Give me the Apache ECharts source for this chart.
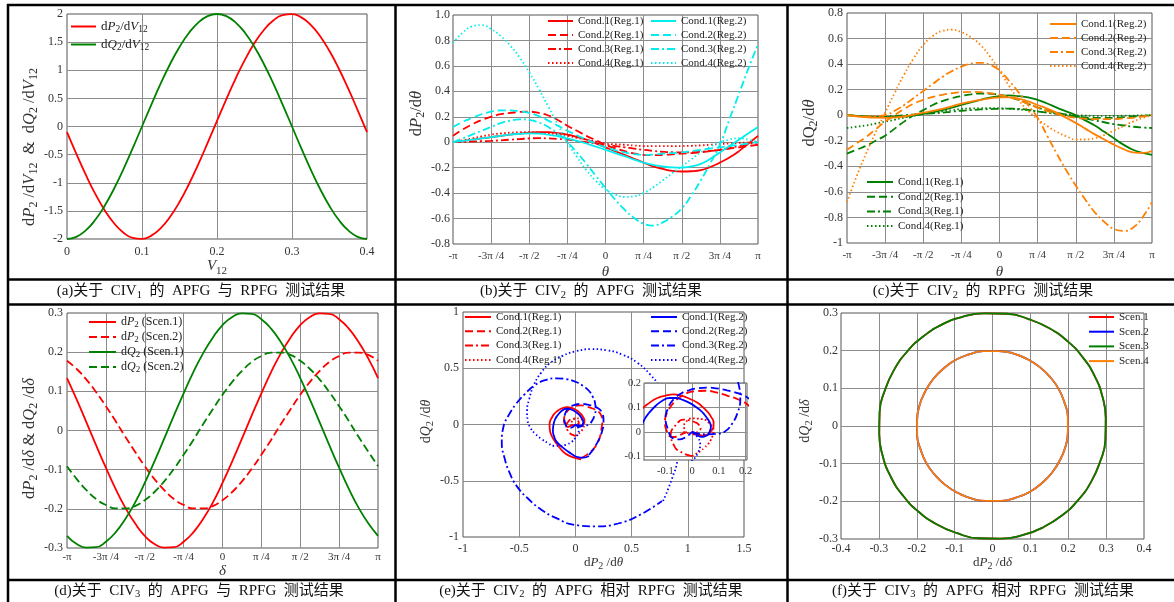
<!DOCTYPE html>
<html><head><meta charset="utf-8">
<script src="https://cdn.jsdelivr.net/npm/echarts@6/dist/echarts.min.js"></script>
<style>html,body{margin:0;padding:0;background:#fff}#c{width:1174px;height:602px}</style>
</head><body><div id="c"></div>
<script>
// ---------- (a) CIV1 ----------
const V12 = [0,0.0125,0.025,0.0375,0.05,0.0625,0.075,0.0875,0.1,0.1125,0.125,0.1375,0.15,0.1625,0.175,0.1875,0.2,0.2125,0.225,0.2375,0.25,0.2625,0.275,0.2875,0.3,0.3125,0.325,0.3375,0.35,0.3625,0.375,0.3875,0.4];
const dP2_dV12 = [-0.1,-0.488,-0.857,-1.193,-1.483,-1.716,-1.884,-1.979,-1.998,-1.94,-1.807,-1.605,-1.341,-1.027,-0.672,-0.292,0.1,0.488,0.857,1.193,1.483,1.716,1.884,1.979,1.998,1.94,1.807,1.605,1.341,1.027,0.672,0.292,-0.1];
const dQ2_dV12 = [-2,-1.962,-1.848,-1.663,-1.414,-1.111,-0.765,-0.39,0,0.39,0.765,1.111,1.414,1.663,1.848,1.962,2,1.962,1.848,1.663,1.414,1.111,0.765,0.39,0,-0.39,-0.765,-1.111,-1.414,-1.663,-1.848,-1.962,-2];

// ---------- angle grid (units of pi/4) and its tick labels ----------
const TH = [-4,-3.75,-3.5,-3.25,-3,-2.75,-2.5,-2.25,-2,-1.75,-1.5,-1.25,-1,-0.75,-0.5,-0.25,0,0.25,0.5,0.75,1,1.25,1.5,1.75,2,2.25,2.5,2.75,3,3.25,3.5,3.75,4];
const PI_TICKS = ['-\u03c0','-3\u03c0 /4','-\u03c0 /2','-\u03c0 /4','0','\u03c0 /4','\u03c0 /2','3\u03c0 /4','\u03c0'];

// ---------- (b) dP2/dθ ----------
const dP_R1_C1 = [0,0.01,0.02,0.03,0.04,0.05,0.06,0.068,0.075,0.08,0.08,0.072,0.06,0.042,0.02,-0.01,-0.04,-0.07,-0.1,-0.13,-0.16,-0.19,-0.21,-0.225,-0.23,-0.228,-0.22,-0.195,-0.16,-0.12,-0.07,-0.01,0.05];
const dP_R1_C2 = [0.05,0.1,0.14,0.175,0.2,0.22,0.23,0.238,0.24,0.23,0.21,0.175,0.13,0.09,0.05,0.015,-0.02,-0.047,-0.07,-0.088,-0.1,-0.102,-0.1,-0.095,-0.09,-0.085,-0.08,-0.07,-0.06,-0.05,-0.04,-0.03,-0.02];
const dP_R1_C3 = [0,0.002,0.005,0.008,0.01,0.015,0.02,0.025,0.03,0.032,0.03,0.026,0.02,0.01,0,-0.01,-0.02,-0.03,-0.04,-0.05,-0.06,-0.068,-0.075,-0.079,-0.08,-0.079,-0.075,-0.068,-0.06,-0.046,-0.03,-0.015,0];
const dP_R1_C4 = [0,0.015,0.03,0.046,0.06,0.069,0.075,0.079,0.08,0.077,0.07,0.06,0.05,0.035,0.02,0.005,-0.01,-0.016,-0.02,-0.026,-0.03,-0.031,-0.03,-0.03,-0.03,-0.028,-0.025,-0.02,-0.015,-0.01,-0.005,-0.002,0];
const dP_R2_C1 = [0,0.01,0.02,0.03,0.04,0.05,0.06,0.066,0.07,0.068,0.06,0.047,0.03,0.01,-0.01,-0.035,-0.06,-0.085,-0.11,-0.136,-0.16,-0.178,-0.19,-0.198,-0.2,-0.19,-0.17,-0.13,-0.08,-0.03,0.02,0.07,0.12];
const dP_R2_C2 = [0.12,0.16,0.19,0.22,0.24,0.25,0.25,0.243,0.23,0.205,0.17,0.13,0.09,0.055,0.02,-0.012,-0.04,-0.062,-0.08,-0.093,-0.1,-0.097,-0.09,-0.085,-0.08,-0.07,-0.06,-0.05,-0.04,-0.03,-0.02,-0.01,0];
const dP_R2_C3 = [0,0.03,0.06,0.09,0.12,0.15,0.17,0.18,0.175,0.155,0.12,0.065,0,-0.08,-0.17,-0.265,-0.36,-0.45,-0.53,-0.595,-0.64,-0.655,-0.63,-0.585,-0.52,-0.42,-0.3,-0.165,-0.02,0.18,0.38,0.58,0.77];
const dP_R2_C4 = [0.78,0.86,0.91,0.92,0.89,0.835,0.76,0.665,0.55,0.42,0.28,0.14,0,-0.115,-0.22,-0.305,-0.37,-0.41,-0.43,-0.425,-0.4,-0.355,-0.3,-0.245,-0.19,-0.135,-0.08,-0.035,0,0.022,0.03,0.02,0];

// ---------- (c) dQ2/dθ ----------
const dQ_R1_C1 = [0,-0.005,-0.01,-0.013,-0.015,-0.013,-0.01,0,0.01,0.024,0.04,0.06,0.08,0.1,0.12,0.137,0.15,0.155,0.15,0.14,0.12,0.092,0.06,0.03,0,-0.04,-0.08,-0.13,-0.18,-0.23,-0.27,-0.295,-0.31];
const dQ_R1_C2 = [-0.3,-0.27,-0.24,-0.2,-0.16,-0.105,-0.05,0,0.04,0.08,0.11,0.133,0.15,0.163,0.17,0.168,0.16,0.142,0.12,0.09,0.06,0.038,0.02,0.004,-0.01,-0.017,-0.02,-0.021,-0.02,-0.015,-0.01,-0.005,0];
const dQ_R1_C3 = [0,-0.005,-0.01,-0.011,-0.01,-0.005,0,0.005,0.01,0.015,0.02,0.028,0.035,0.04,0.045,0.048,0.05,0.051,0.05,0.042,0.03,0.02,0.01,0,-0.01,-0.025,-0.04,-0.055,-0.07,-0.08,-0.09,-0.096,-0.1];
const dQ_R1_C4 = [-0.1,-0.09,-0.08,-0.065,-0.05,-0.035,-0.02,-0.005,0.01,0.02,0.03,0.04,0.05,0.053,0.055,0.056,0.055,0.051,0.045,0.038,0.03,0.022,0.015,0.007,0,-0.003,-0.005,-0.005,-0.005,-0.004,-0.003,-0.001,0];
const dQ_R2_C1 = [0,-0.008,-0.015,-0.019,-0.02,-0.017,-0.01,0.004,0.02,0.034,0.05,0.07,0.09,0.106,0.12,0.132,0.14,0.14,0.13,0.108,0.08,0.052,0.02,-0.02,-0.06,-0.105,-0.15,-0.19,-0.23,-0.265,-0.29,-0.295,-0.28];
const dQ_R2_C2 = [-0.27,-0.22,-0.17,-0.11,-0.05,0,0.05,0.09,0.12,0.143,0.16,0.172,0.18,0.183,0.18,0.172,0.16,0.142,0.12,0.09,0.06,0.033,0.01,-0.008,-0.02,-0.027,-0.03,-0.031,-0.03,-0.025,-0.02,-0.01,0];
const dQ_R2_C3 = [0,-0.008,-0.01,-0.008,0,0.035,0.08,0.135,0.19,0.245,0.3,0.345,0.38,0.403,0.41,0.395,0.35,0.27,0.18,0.08,-0.02,-0.16,-0.3,-0.43,-0.55,-0.66,-0.76,-0.835,-0.89,-0.905,-0.88,-0.8,-0.68];
const dQ_R2_C4 = [-0.68,-0.48,-0.3,-0.135,0.02,0.175,0.32,0.445,0.55,0.62,0.66,0.67,0.65,0.61,0.55,0.46,0.35,0.23,0.12,0.035,-0.03,-0.085,-0.13,-0.165,-0.19,-0.19,-0.18,-0.155,-0.12,-0.085,-0.05,-0.022,0];

// ---------- (d) CIV3 ----------
const dP_S1 = [0.134,0.079,0.021,-0.038,-0.095,-0.149,-0.197,-0.237,-0.269,-0.29,-0.299,-0.298,-0.284,-0.26,-0.226,-0.184,-0.134,-0.079,-0.021,0.038,0.095,0.149,0.197,0.237,0.269,0.29,0.299,0.298,0.284,0.26,0.226,0.184,0.134];
const dQ_S1 = [-0.269,-0.29,-0.299,-0.298,-0.284,-0.26,-0.226,-0.184,-0.134,-0.079,-0.021,0.038,0.095,0.149,0.197,0.237,0.269,0.29,0.299,0.298,0.284,0.26,0.226,0.184,0.134,0.079,0.021,-0.038,-0.095,-0.149,-0.197,-0.237,-0.269];
const dP_S2 = [0.178,0.157,0.13,0.098,0.062,0.024,-0.016,-0.054,-0.091,-0.124,-0.152,-0.175,-0.19,-0.199,-0.199,-0.193,-0.178,-0.157,-0.13,-0.098,-0.062,-0.024,0.016,0.054,0.091,0.124,0.152,0.175,0.19,0.199,0.199,0.193,0.178];
const dQ_S2 = [-0.091,-0.124,-0.152,-0.175,-0.19,-0.199,-0.199,-0.193,-0.178,-0.157,-0.13,-0.098,-0.062,-0.024,0.016,0.054,0.091,0.124,0.152,0.175,0.19,0.199,0.199,0.193,0.178,0.157,0.13,0.098,0.062,0.024,-0.016,-0.054,-0.091];

const CAPTIONS = [
  ['(a)关于\u2002CIV','1','\u2002的\u2002APFG\u2002与\u2002RPFG\u2002测试结果'],
  ['(b)关于\u2002CIV','2','\u2002的\u2002APFG\u2002测试结果'],
  ['(c)关于\u2002CIV','2','\u2002的\u2002RPFG\u2002测试结果'],
  ['(d)关于\u2002CIV','3','\u2002的\u2002APFG\u2002与\u2002RPFG\u2002测试结果'],
  ['(e)关于\u2002CIV','2','\u2002的\u2002APFG\u2002相对\u2002RPFG\u2002测试结果'],
  ['(f)关于\u2002CIV','3','\u2002的\u2002APFG\u2002相对\u2002RPFG\u2002测试结果']
];

// ---------- styling ----------
const SERIF = 'Liberation Serif, Times New Roman, serif';
const CAPF = 'Liberation Serif, Noto Sans CJK SC, serif';
const TXT = '#333';
const RED = '#ff0000', GREEN = '#008000', CYAN = '#00eeee', ORANGE = '#ff8000', BLUE = '#0000ff';
const DASH = { s: 'solid', d: [8, 4], dd: [8, 3, 2, 3], o: [1.5, 2.5] };
const CONDS = ['Cond.1', 'Cond.2', 'Cond.3', 'Cond.4'];
const DSEQ = [DASH.s, DASH.d, DASH.dd, DASH.o];

const zip = (xs, ys) => xs.map((x, i) => [x, ys[i]]);

function richSet(F, f, pad, color) {
  return {
    n: { fontFamily: SERIF, fontSize: F, color },
    i: { fontFamily: SERIF, fontSize: F, fontStyle: 'italic', color },
    s: { fontFamily: SERIF, fontSize: f, color, padding: [pad, 0, 0, 0] }
  };
}
const NR_BIG = richSet(16.5, 12, 9, TXT);
const NR_MID = richSet(14, 10.5, 8, TXT);
const NR_SM = richSet(13, 10, 7, TXT);
const LR13 = richSet(13, 9.5, 6, '#222');
const LR12 = richSet(12, 9, 5, '#222');

const LEGEND_TEXT = {
  'a|P': '{n|d}{i|P}{s|2}{n|/d}{i|V}{s|12}',
  'a|Q': '{n|d}{i|Q}{s|2}{n|/d}{i|V}{s|12}',
  'd|P1': '{n|d}{i|P}{s|2}{n| (Scen.1)}',
  'd|P2': '{n|d}{i|P}{s|2}{n| (Scen.2)}',
  'd|Q1': '{n|d}{i|Q}{s|2}{n| (Scen.1)}',
  'd|Q2': '{n|d}{i|Q}{s|2}{n| (Scen.2)}'
};
const legFmt = name => LEGEND_TEXT[name] || name.slice(name.indexOf('|') + 1);

const grids = [
  { left: 67, top: 14, width: 300, height: 225 },
  { left: 453, top: 15, width: 305, height: 229 },
  { left: 847, top: 13, width: 305, height: 230 },
  { left: 67, top: 313, width: 311, height: 235 },
  { left: 463, top: 312, width: 281, height: 225 },
  { left: 644, top: 383, width: 103, height: 77, z: 5, backgroundColor: '#fff' },
  { left: 841, top: 313, width: 303, height: 226 }
].map(g => Object.assign({ show: true, borderColor: '#555', borderWidth: 1, backgroundColor: 'transparent', outerBoundsMode: 'none', containLabel: false }, g));

function axis(gi, o) {
  return {
    type: 'value', gridIndex: gi, position: o.pos,
    min: o.min, max: o.max, interval: o.interval, minInterval: o.minInterval,
    axisLine: { show: false }, axisTick: { show: false },
    splitLine: { show: true, showMinLine: false, showMaxLine: false, lineStyle: { color: '#8c8c8c', width: 1 } },
    axisLabel: Object.assign({ fontFamily: SERIF, fontSize: o.fs || 12, color: TXT, margin: o.margin, hideOverlap: false }, o.fmt ? { formatter: o.fmt } : {}, o.lab || {}),
    name: o.name || '', nameLocation: 'middle', nameGap: o.gap || 0, nameRotate: o.rot || 0,
    nameTextStyle: { rich: o.rich || NR_BIG, padding: o.npad || 0 },
    z: o.z || 0
  };
}
const piFmt = v => PI_TICKS[Math.round(v) + 4];

const xAxis = [
  axis(0, { pos: 'bottom', min: 0, max: 0.4, interval: 0.1, margin: 7, name: '{i|V}{s|12}', gap: 11, rich: richSet(15, 11, 9, TXT) }),
  axis(1, { pos: 'bottom', min: -4, max: 4, interval: 1, fmt: piFmt, fs: 11, margin: 7, name: '{i|\u03b8}', gap: 21, rich: richSet(15, 11, 9, TXT) }),
  axis(2, { pos: 'bottom', min: -4, max: 4, interval: 1, fmt: piFmt, fs: 11, margin: 7, name: '{i|\u03b8}', gap: 22, rich: richSet(15, 11, 9, TXT) }),
  axis(3, { pos: 'bottom', min: -4, max: 4, interval: 1, fmt: piFmt, fs: 11, margin: 4, name: '{i|\u03b4}', gap: 16, rich: richSet(15, 11, 9, TXT) }),
  axis(4, { pos: 'bottom', min: -1, max: 1.5, interval: 0.5, margin: 6, name: '{n|d}{i|P}{s|2}{n| /d}{i|\u03b8}', gap: 17, rich: NR_SM }),
  axis(5, { pos: 'bottom', min: -0.18, max: 0.205, minInterval: 0.1, fs: 10.5, margin: 6, z: 6, lab: { showMinLabel: false, showMaxLabel: false } }),
  axis(6, { pos: 'bottom', min: -0.4, max: 0.4, interval: 0.1, margin: 4, name: '{n|d}{i|P}{s|2}{n| /d}{i|\u03b4}', gap: 14, rich: NR_SM })
];
const yAxis = [
  axis(0, { pos: 'left', min: -2, max: 2, interval: 0.5, margin: 4, rot: 90, gap: 21, npad: [0, 41, 0, 0],
    name: '{n|d}{i|P}{s|2}{n| /d}{i|V}{s|12}{n|\u2002&\u2002d}{i|Q}{s|2}{n| /d}{i|V}{s|12}' }),
  axis(1, { pos: 'left', min: -0.8, max: 1.0, interval: 0.2, margin: 3, rot: 90, gap: 22, npad: [0, 0, 0, 32],
    fmt: v => Math.abs(v) < 1e-9 ? '0' : v.toFixed(1), name: '{n|d}{i|P}{s|2}{n|/d}{i|\u03b8}' }),
  axis(2, { pos: 'left', min: -1, max: 0.8, interval: 0.2, margin: 4, rot: 90, gap: 24, npad: [0, 0, 0, 10], name: '{n|dQ}{s|2}{n|/d}{i|\u03b8}' }),
  axis(3, { pos: 'left', min: -0.3, max: 0.3, interval: 0.1, margin: 4, rot: 90, gap: 24, npad: [0, 16, 0, 0],
    name: '{n|d}{i|P}{s|2}{n| /d}{i|\u03b4}{n| & d}{i|Q}{s|2}{n| /d}{i|\u03b4}' }),
  axis(4, { pos: 'left', min: -1, max: 1, interval: 0.5, margin: 4, rot: 90, gap: 21, npad: [0, 0, 0, 6], rich: NR_MID, name: '{n|d}{i|Q}{s|2}{n| /d}{i|\u03b8}' }),
  axis(5, { pos: 'left', min: -0.116, max: 0.202, minInterval: 0.1, fs: 10.5, margin: 3, z: 6, lab: { showMinLabel: false, showMaxLabel: false } }),
  axis(6, { pos: 'left', min: -0.3, max: 0.3, interval: 0.1, margin: 3, rot: 90, gap: 19, npad: [0, 0, 0, 10], rich: NR_MID, name: '{n|d}{i|Q}{s|2}{n| /d}{i|\u03b4}' })
];

function ln(name, ai, data, color, dash, z) {
  return {
    type: 'line', name, xAxisIndex: ai, yAxisIndex: ai, data, symbol: 'none', smooth: 0.5,
    lineStyle: { color, width: 1.8, type: dash }, itemStyle: { color },
    z: z || 2, silent: true, animation: false, clip: true
  };
}

const P_R1 = [dP_R1_C1, dP_R1_C2, dP_R1_C3, dP_R1_C4];
const P_R2 = [dP_R2_C1, dP_R2_C2, dP_R2_C3, dP_R2_C4];
const Q_R1 = [dQ_R1_C1, dQ_R1_C2, dQ_R1_C3, dQ_R1_C4];
const Q_R2 = [dQ_R2_C1, dQ_R2_C2, dQ_R2_C3, dQ_R2_C4];

const series = [];
series.push(ln('a|P', 0, zip(V12, dP2_dV12), RED, DASH.s));
series.push(ln('a|Q', 0, zip(V12, dQ2_dV12), GREEN, DASH.s));
P_R1.forEach((a, k) => series.push(ln('b|' + CONDS[k] + '(Reg.1)', 1, zip(TH, a), RED, DSEQ[k])));
P_R2.forEach((a, k) => series.push(ln('b|' + CONDS[k] + '(Reg.2)', 1, zip(TH, a), CYAN, DSEQ[k])));
Q_R1.forEach((a, k) => series.push(ln('cg|' + CONDS[k] + '(Reg.1)', 2, zip(TH, a), GREEN, DSEQ[k])));
Q_R2.forEach((a, k) => series.push(ln('co|' + CONDS[k] + '(Reg.2)', 2, zip(TH, a), ORANGE, DSEQ[k])));
series.push(ln('d|P1', 3, zip(TH, dP_S1), RED, DASH.s));
series.push(ln('d|P2', 3, zip(TH, dP_S2), RED, DASH.d));
series.push(ln('d|Q1', 3, zip(TH, dQ_S1), GREEN, DASH.s));
series.push(ln('d|Q2', 3, zip(TH, dQ_S2), GREEN, DASH.d));
P_R1.forEach((a, k) => series.push(ln('e|' + CONDS[k] + '(Reg.1)', 4, zip(a, Q_R1[k]), RED, DSEQ[k])));
P_R2.forEach((a, k) => series.push(ln('e|' + CONDS[k] + '(Reg.2)', 4, zip(a, Q_R2[k]), BLUE, DSEQ[k])));
P_R1.forEach((a, k) => series.push(ln('ei|' + CONDS[k] + '(Reg.1)', 5, zip(a, Q_R1[k]), RED, DSEQ[k], 7)));
P_R2.forEach((a, k) => series.push(ln('ei|' + CONDS[k] + '(Reg.2)', 5, zip(a, Q_R2[k]), BLUE, DSEQ[k], 7)));
series.push(ln('f|Scen.1', 6, zip(dP_S1, dQ_S1), RED, DASH.s));
series.push(ln('f|Scen.2', 6, zip(dP_S2, dQ_S2), BLUE, DASH.s));
series.push(ln('f|Scen.3', 6, zip(dP_S1, dQ_S1), GREEN, DASH.s));
series.push(ln('f|Scen.4', 6, zip(dP_S2, dQ_S2), ORANGE, DASH.s));

function leg(names, left, top, fs, iw, gap, rich) {
  return {
    show: true, data: names, orient: 'vertical', left, top, padding: 0,
    itemWidth: iw, itemHeight: 10, itemGap: gap, selectedMode: false, formatter: legFmt,
    textStyle: Object.assign({ fontFamily: SERIF, fontSize: fs, color: '#222' }, rich ? { rich } : {}),
    itemStyle: { opacity: 0, borderWidth: 0 }, backgroundColor: 'transparent'
  };
}
const L = (p, reg) => CONDS.map(c => p + '|' + c + '(Reg.' + reg + ')');
const legend = [
  leg(['a|P', 'a|Q'], 70, 20, 13, 25, 3.5, LR13),
  leg(L('b', 1), 547, 15.5, 11, 25, 3),
  leg(L('b', 2), 650, 15.5, 11, 25, 3),
  leg(L('co', 2), 1049, 18.5, 11, 26, 3),
  leg(L('cg', 1), 866, 176.5, 11, 26, 3.7),
  leg(['d|P1', 'd|P2', 'd|Q1', 'd|Q2'], 88, 316, 12, 27, 2, LR12),
  leg(L('e', 1), 464, 311.5, 11, 26, 3.3),
  leg(L('e', 2), 650, 311.5, 11, 26, 3.3),
  leg(['f|Scen.1', 'f|Scen.2', 'f|Scen.3', 'f|Scen.4'], 1088, 311.5, 11, 25, 3.7)
];

// table frame + captions
const frame = [];
const hl = y => frame.push({ type: 'line', shape: { x1: 7, y1: y, x2: 1174, y2: y }, style: { stroke: '#000', lineWidth: 2.5 }, silent: true });
const vl = x => frame.push({ type: 'line', shape: { x1: x, y1: 4, x2: x, y2: 602 }, style: { stroke: '#000', lineWidth: 2.5 }, silent: true });
[5, 279.5, 304.5, 580].forEach(hl);
[8, 395.5, 787.5].forEach(vl);
const capPos = [[201, 291.5], [591, 291.5], [983, 291.5], [199, 591], [591, 591], [983, 591]];
const CAPR = {
  n: { fontFamily: CAPF, fontSize: 15, fill: '#111', color: '#111' },
  s: { fontFamily: SERIF, fontSize: 10.5, fill: '#111', color: '#111', padding: [7, 0, 0, 0] }
};
CAPTIONS.forEach((c, i) => frame.push({
  type: 'text', x: capPos[i][0], y: capPos[i][1], silent: true,
  style: { text: '{n|' + c[0] + '}{s|' + c[1] + '}{n|' + c[2] + '}', rich: CAPR, fontFamily: CAPF, fontSize: 15, fill: '#111', align: 'center', verticalAlign: 'middle' }
}));

const option = {
  animation: false,
  backgroundColor: '#fff',
  grid: grids, xAxis, yAxis, series, legend,
  graphic: { elements: frame }
};
const chart = echarts.init(document.getElementById('c'), null, { renderer: 'canvas' });
chart.setOption(option);
</script></body></html>
